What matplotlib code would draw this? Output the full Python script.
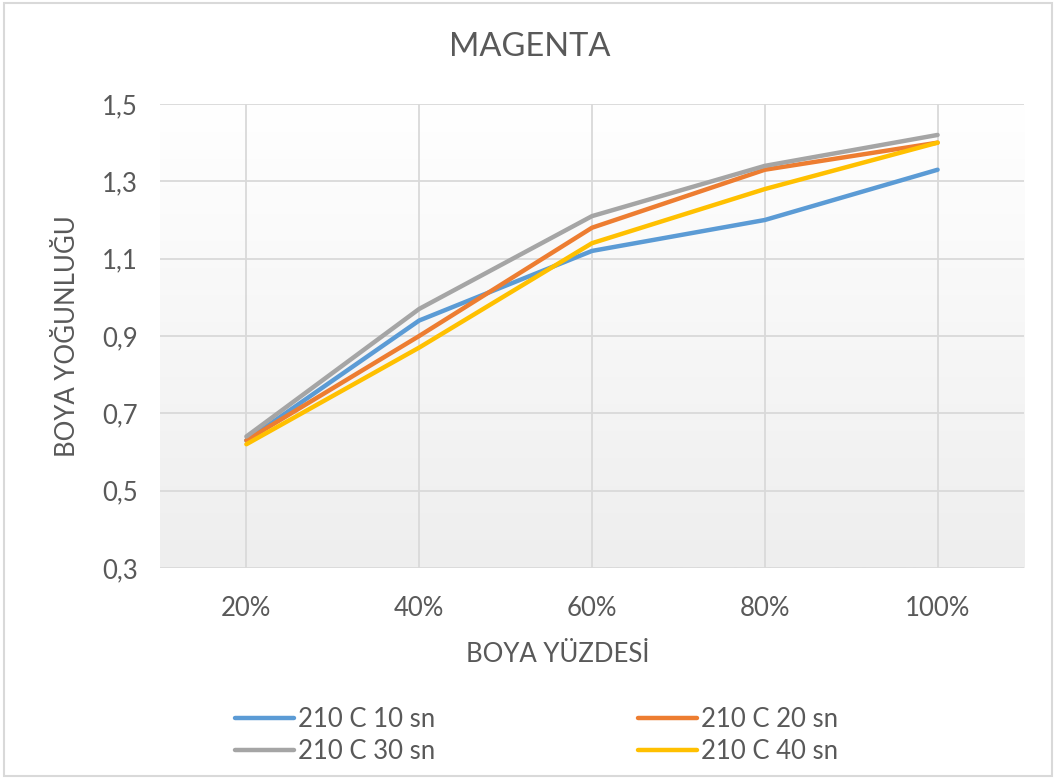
import matplotlib.pyplot as plt
import numpy as np
from matplotlib.colors import LinearSegmentedColormap
from matplotlib.patches import Rectangle

categories = ['20%', '40%', '60%', '80%', '100%']
s10 = [0.63, 0.94, 1.12, 1.20, 1.33]
s20 = [0.63, 0.90, 1.18, 1.33, 1.40]
s30 = [0.64, 0.97, 1.21, 1.34, 1.42]
s40 = [0.62, 0.87, 1.14, 1.28, 1.40]
labels = ['210 C 10 sn', '210 C 20 sn', '210 C 30 sn', '210 C 40 sn']
colors = ['#5B9BD5', '#ED7D31', '#A5A5A5', '#FFC000']
y_ticks = [0.3, 0.5, 0.7, 0.9, 1.1, 1.3, 1.5]

text_color = '#595959'
grid_color = '#D9D9D9'
plt.rcParams['font.family'] = ['Lato', 'DejaVu Sans']

fig = plt.figure(figsize=(10.56, 7.82), dpi=100)
ax = fig.add_axes([0.1515, 0.2737, 0.8182, 0.5933])

x = np.arange(len(categories))
ax.set_xlim(-0.5, len(categories) - 0.5)
ax.set_ylim(0.3, 1.5)

# soft vertical gradient behind the plot area: white on top, light grey below
grad = np.linspace(0.0, 1.0, 256).reshape(-1, 1)
bg_cmap = LinearSegmentedColormap.from_list('bg', ['#EEEEEE', '#FFFFFF'])
ax.imshow(grad, extent=[-0.5, len(categories) - 0.5, 0.3, 1.5], aspect='auto',
          cmap=bg_cmap, zorder=0, origin='lower')

for yt in y_ticks:
    ax.axhline(yt, color=grid_color, lw=1.3, zorder=1)
for xi in x:
    ax.plot([xi, xi], [0.3, 1.5], color=grid_color, lw=1.3, zorder=1)

for vals, lab, col in zip([s10, s20, s30, s40], labels, colors):
    ax.plot(x, vals, color=col, lw=3.2, label=lab, solid_capstyle='round', zorder=3)

for sp in ax.spines.values():
    sp.set_visible(False)
ax.set_xticks(x)
ax.set_xticklabels(categories)
ax.set_yticks(y_ticks)
ax.set_yticklabels([f'{v:.1f}'.replace('.', ',') for v in y_ticks])
ax.tick_params(length=0, labelsize=18.5, colors=text_color)
ax.tick_params(axis='x', pad=20)
ax.tick_params(axis='y', pad=16)

# title and x label are centred on the whole chart, not on the plot area
fig.text(0.502, 0.94, 'MAGENTA', fontsize=23.5, color=text_color,
         ha='center', va='center')
ax.set_xlabel('BOYA YÜZDESİ', fontsize=18.5, color=text_color)
ax.xaxis.set_label_coords(0.46, -0.16)
ax.set_ylabel('BOYA YOĞUNLUĞU', fontsize=18.5, color=text_color, labelpad=16)

# order handles so that rows read 10/20 and 30/40
h, l = ax.get_legend_handles_labels()
order = [0, 2, 1, 3]
leg = fig.legend([h[i] for i in order], [l[i] for i in order], ncol=2,
                 loc='center', bbox_to_anchor=(0.508, 0.059), frameon=False,
                 fontsize=18.5, handlelength=2.3, handletextpad=0.15,
                 columnspacing=7.9, labelspacing=0.28)
for t in leg.get_texts():
    t.set_color(text_color)

fig.patches.append(Rectangle((0.004, 0.008), 0.992, 0.988, transform=fig.transFigure,
                             fill=False, edgecolor='#D9D9D9', lw=1.5))

fig.savefig('out.png', dpi=100)
